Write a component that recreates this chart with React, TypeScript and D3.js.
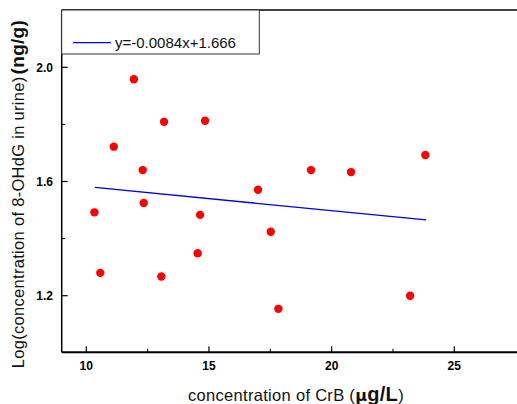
import * as d3 from "d3";

// scatter values
const crb = [11.94, 13.17, 14.84, 11.12, 12.3, 19.16, 20.79, 23.82, 17.0, 10.33, 12.34, 14.64, 17.52, 14.54, 10.57, 13.06, 23.2, 17.83];
const logOhdg = [1.958, 1.809, 1.813, 1.722, 1.64, 1.64, 1.633, 1.693, 1.571, 1.492, 1.525, 1.483, 1.424, 1.349, 1.28, 1.267, 1.2, 1.154];
const slope = -0.0084;
const intercept = 1.666;
const fitRange = [10.35, 23.85];
const xTicks = [10, 15, 20, 25];
const xMinor = [12.5, 17.5, 22.5];
const yTicks = [1.2, 1.6, 2.0];
const yMinor = [1.4, 1.8];

const W = 517;
const H = 404;
const left = 61.7;
const top = 10;
const bottom = 352.3;

export default function App() {
  const x = d3.scaleLinear().domain([10, 25]).range([86.3, 454.3]);
  const y = d3.scaleLinear().domain([1.2, 2.0]).range([295.7, 67.3]);
  const xMax = x.invert(W + 2);

  const line = d3
    .line<number>()
    .x((d) => x(d))
    .y((d) => y(slope * d + intercept));

  const font = "Arial, 'Liberation Sans', sans-serif";

  return (
    <div style={{ position: "absolute", left: 0, top: 0 }}>
      <svg width={W} height={H} style={{ display: "block", background: "#fff" }} fontFamily={font}>
        {/* frame */}
        <line x1={left} x2={x(xMax)} y1={top} y2={top} stroke="#000" strokeWidth={1.5} />
        <line x1={left} x2={left} y1={top} y2={bottom} stroke="#000" strokeWidth={1.5} />
        <line x1={left} x2={x(xMax)} y1={bottom} y2={bottom} stroke="#000" strokeWidth={2} />

        {/* x ticks */}
        {xTicks.map((t) => (
          <g key={"x" + t}>
            <line x1={x(t)} x2={x(t)} y1={bottom} y2={bottom - 6} stroke="#000" strokeWidth={1.2} />
            <text x={x(t)} y={370} textAnchor="middle" fontSize={12} fontWeight="bold">
              {t}
            </text>
          </g>
        ))}
        {xMinor.map((t) => (
          <line key={"xm" + t} x1={x(t)} x2={x(t)} y1={bottom} y2={bottom - 3.5} stroke="#000" strokeWidth={1} />
        ))}

        {/* y ticks */}
        {yTicks.map((t) => (
          <g key={"y" + t}>
            <line x1={left} x2={left + 6} y1={y(t)} y2={y(t)} stroke="#000" strokeWidth={1.2} />
            <text x={53} y={y(t) + 4.3} textAnchor="end" fontSize={12} fontWeight="bold">
              {d3.format(".1f")(t)}
            </text>
          </g>
        ))}
        {yMinor.map((t) => (
          <line key={"ym" + t} x1={left} x2={left + 3.5} y1={y(t)} y2={y(t)} stroke="#000" strokeWidth={1} />
        ))}

        {/* fit line */}
        <path d={line(fitRange) ?? ""} fill="none" stroke="#0000e0" strokeWidth={1.3} />

        {/* points */}
        {crb.map((v, i) => (
          <circle key={i} cx={x(v)} cy={y(logOhdg[i])} r={4.2} fill="#ff0000" />
        ))}

        {/* legend */}
        <rect x={left} y={top} width={259.3 - left} height={44} fill="#fff" stroke="#333" strokeWidth={1} />
        <line x1={73} x2={111} y1={42.7} y2={42.7} stroke="#0000e0" strokeWidth={1.3} />
        <text x={115} y={48} fontSize={15} fill="#111">
          y=-0.0084x+1.666
        </text>

        {/* axis titles */}
        <text x={296} y={401} textAnchor="middle" fontSize={16.5} fill="#111" letterSpacing={0.3}>
          concentration of CrB (<tspan fontFamily="'DejaVu Sans', sans-serif" fontSize={16} fontWeight="bold">μ</tspan>
          <tspan fontSize={20} fontWeight="bold">g/L</tspan>)
        </text>
        <text
          transform="translate(24,194) rotate(-90)"
          textAnchor="middle"
          fontSize={16.5}
          fill="#111"
          letterSpacing={0.3}
        >
          Log(concentration of 8-OHdG in urine)
          <tspan fontSize={19} fontWeight="bold" dx={2}>(ng/g)</tspan>
        </text>
      </svg>
    </div>
  );
}
